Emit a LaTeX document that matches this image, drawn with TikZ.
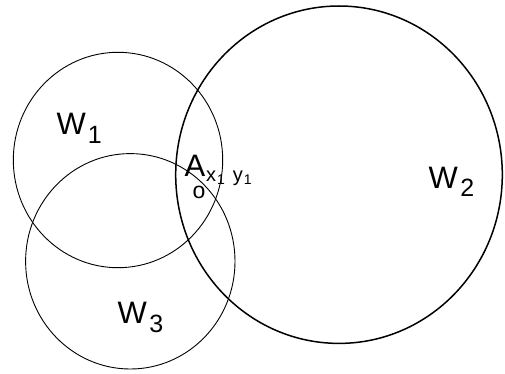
\documentclass[tikz,border=0pt]{standalone}
\usepackage{fontspec}
\setmainfont{Liberation Sans}
\newcommand{\bigf}{\fontsize{31}{31}\selectfont}
\newcommand{\subf}{\fontsize{25}{25}\selectfont}
\newcommand{\smallf}{\fontsize{20}{20}\selectfont}
\newcommand{\tinyf}{\fontsize{14}{14}\selectfont}
\begin{document}
\begin{tikzpicture}[x=1pt,y=-1pt,
  thin circ/.style={draw=black,line width=0.9pt},
  thick circ/.style={draw=black,line width=1.5pt},
  lbl/.style={inner sep=0pt,outer sep=0pt,anchor=base west}]
\useasboundingbox (0,0) rectangle (505,374);
\fill[white] (0,0) rectangle (505,374);
\draw[thin circ] (118,160) ellipse [x radius=104.7, y radius=107.7];
\draw[thin circ] (130.3,261.3) ellipse [x radius=104.7, y radius=107.7];
\draw[thick circ] (339,174.7) ellipse [x radius=163.3, y radius=168.7];
\node[lbl] (w1) at (56.5,134.5) {\bigf W\kern2pt\raisebox{-9pt}{\subf 1}};
\node[lbl] (w2) at (428.5,188.3) {\bigf W\kern2.5pt\raisebox{-8.5pt}{\subf 2}};
\node[lbl] (w3) at (117.5,323.3) {\bigf W\kern2.5pt\raisebox{-9pt}{\subf 3}};
\node[lbl] (a) at (184.5,176.7) {\bigf A};
\node[lbl] (xy) at (206,181) {\smallf x\kern1pt\raisebox{-3.5pt}{\tinyf 1}\kern8pt y\kern1pt\raisebox{-3.5pt}{\tinyf 1}};
\node[inner sep=0pt,anchor=base] (o) at (199,198.5) {\fontsize{23}{23}\selectfont o};
\end{tikzpicture}
\end{document}
